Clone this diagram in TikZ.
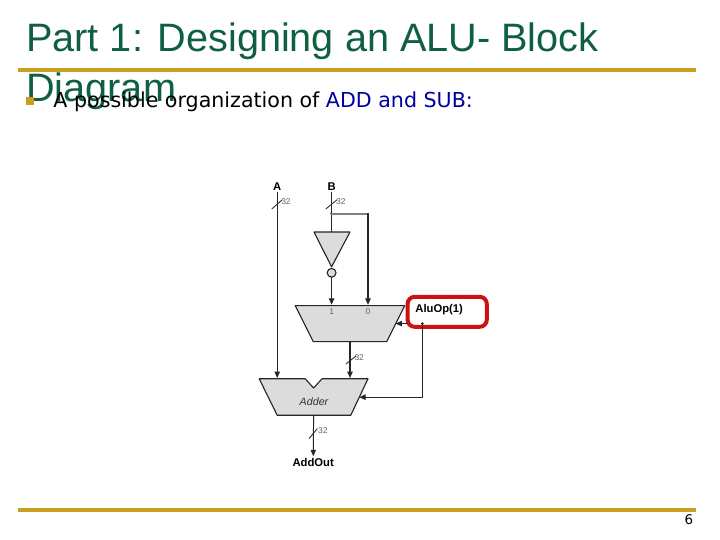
\documentclass[tikz,border=0pt]{standalone}
\usepackage{fontspec}
\setmainfont{Liberation Sans}
\newfontfamily\bodyfont{DejaVu Sans}
\usetikzlibrary{arrows.meta}
\definecolor{titlegreen}{HTML}{0F6040}
\definecolor{rulegold}{HTML}{C8A020}
\definecolor{opblue}{HTML}{0000A0}
\definecolor{opred}{HTML}{CC1111}
\definecolor{blockgray}{HTML}{DCDCDC}
\tikzset{
  wire/.style={line width=0.7pt,color=black!85},
  buswire/.style={line width=1.0pt,color=black!85},
  busmark/.style={line width=0.6pt,color=black!85},
  block/.style={fill=blockgray,draw=black!85,line width=0.8pt,line join=round},
  portname/.style={font=\fontsize{8}{9}\selectfont\bfseries,inner sep=1pt},
  widthtext/.style={font=\fontsize{6}{7}\selectfont,color=black!60,inner sep=0pt},
  titletext/.style={anchor=base west,inner sep=0pt,color=titlegreen,font=\fontsize{28.2}{30}\selectfont}
}
\begin{document}
\begin{tikzpicture}[line cap=round,line join=round,>={Triangle[length=4.5pt,width=3.8pt]},x=1.0cm,y=1.0cm]
\useasboundingbox (0,0) rectangle (18,13.5);
\fill [white] (0,0) rectangle (18,13.5);
% slide frame
\draw [line width=2.4pt,color=rulegold,line cap=butt] (0.45,11.75)-- (17.4,11.75);
\draw [line width=2.4pt,color=rulegold,line cap=butt] (0.45,0.75)-- (17.4,0.75);
\node (titleone) [titletext] at (0.65,12.2) {Part 1: Designing an ALU- Block};
\node (titletwo) [titletext] at (0.65,10.96) {Diagram};
\fill [color=rulegold] (0.65,10.875) rectangle (0.85,11.075);
\node (bodyline) [anchor=base west,inner sep=0pt,font=\bodyfont\fontsize{14.65}{17}\selectfont] at (1.33,10.8) {A possible organization of \textcolor{opblue}{ADD and SUB:}};
\node (pagenum) [font=\bodyfont\fontsize{9.5}{10}\selectfont,inner sep=0pt] at (17.22,0.5) {6};
% blocks
\draw [block] (7.38,5.86)-- (10.12,5.86)-- (9.67,4.96)-- (7.83,4.96)-- cycle;
\draw [block] (6.48,4.03)-- (7.63,4.03)-- (7.84,3.80)-- (8.05,4.03)-- (9.20,4.03)-- (8.77,3.12)-- (6.93,3.12)-- cycle;
\draw [block] (7.85,7.70)-- (8.75,7.70)-- (8.29,6.83)-- cycle;
\draw [block] (8.29,6.68) circle (0.11cm);
\node (muxone) [widthtext] at (8.29,5.71) {1};
\node (muxzero) [widthtext] at (9.20,5.71) {0};
\node (adder) [font=\fontsize{7.6}{8}\selectfont\itshape,inner sep=0pt,color=black!80] at (7.85,3.45) {Adder};
% ports
\node (inA) [portname] at (6.93,8.83) {A};
\node (inB) [portname] at (8.29,8.83) {B};
\node (addout) [portname] at (7.83,1.95) {AddOut};
\draw [line width=2.8pt,color=opred,rounded corners=5pt,fill=white] (10.19,5.33) rectangle (12.17,6.08);
\node (aluop) [portname] at (10.98,5.76) {AluOp(1)};
% named ends
\coordinate (fork) at (8.29,8.16);
\coordinate (forkright) at (9.20,8.16);
\coordinate (muxin) at (9.20,5.88);
\coordinate (opstart) at (10.56,5.41);
\coordinate (opcorner) at (10.56,3.57);
% wires
\draw [wire,->] (inA)-- (6.93,4.05);
\draw [wire] (inB)-- (8.29,7.70);
\draw [fill=black] (fork) circle (0.7pt);
\draw [line width=1.3pt,color=black!50] (fork)-- (forkright);
\draw [buswire,->] (forkright)-- (muxin);
\draw [wire,->] (8.29,6.57)-- (8.29,5.88);
\draw [buswire,->] (8.75,4.96)-- (8.75,4.05);
\draw [wire,->] (7.84,3.12)-- (addout);
\draw [fill=black] (opstart) circle (0.7pt);
\draw [wire,->] (opstart)-- (opcorner)-- (8.98,3.57);
\draw [wire,->] (10.17,5.41)-- (9.89,5.41);
% bus width marks
\draw [busmark] (6.80,8.28)-- (7.05,8.50);
\draw [busmark] (8.15,8.28)-- (8.42,8.50);
\draw [busmark] (8.65,4.40)-- (8.90,4.60);
\draw [busmark] (7.73,2.54)-- (7.93,2.78);
\node (widthA) [widthtext] at (7.15,8.45) {32};
\node (widthB) [widthtext] at (8.52,8.45) {32};
\node (widthmux) [widthtext] at (8.98,4.55) {32};
\node (widthadd) [widthtext] at (8.07,2.73) {32};
\end{tikzpicture}
\end{document}
